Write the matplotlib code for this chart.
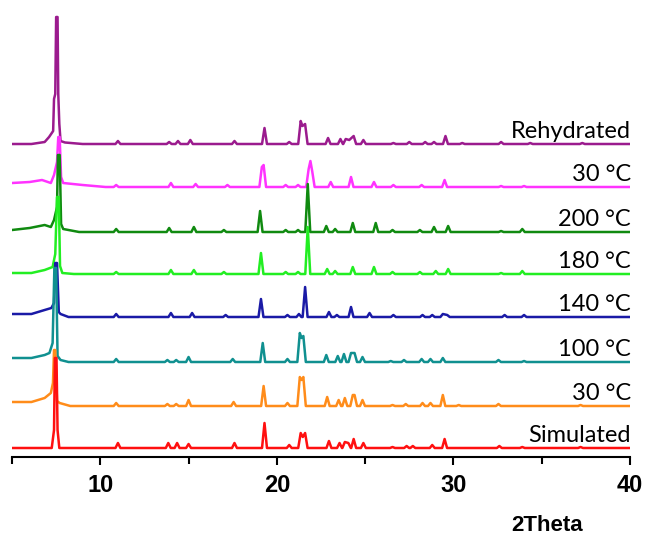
import matplotlib
matplotlib.use("Agg")
import matplotlib.pyplot as plt
from matplotlib.ticker import MultipleLocator

# stacked XRD patterns, top to bottom (intensities relative to each baseline)
names = ["Rehydrated", "30 °C", "200 °C", "180 °C", "140 °C", "100 °C", "30 °C", "Simulated"]
colors = ["#9B1B8E", "#FF33FF", "#108A10", "#22EE22", "#1A1AA6", "#109090", "#FF8C1A", "#FF1010"]
offsets = [313, 270, 225, 183, 140, 95, 51, 9]

# low-angle region (2theta, I) incl. the main reflection
heads = [
    [(5, 0), (6.1, 0), (6.85, 2), (7.1, 7), (7.33, 13), (7.38, 45), (7.45, 50), (7.5, 127),
     (7.58, 127), (7.62, 50), (7.68, 20), (7.75, 3), (8.0, 1.5), (9.0, 0)],
    [(5, 4), (6.0, 5), (6.7, 7), (7.2, 4), (7.38, 12), (7.55, 25), (7.62, 50), (7.7, 50),
     (7.78, 10), (7.9, 4), (9.0, 2), (10.3, 0)],
    [(5, 2), (6.0, 4), (6.85, 7), (7.2, 5), (7.38, 12), (7.55, 25), (7.6, 77), (7.7, 77),
     (7.78, 8), (7.9, 3), (8.8, 0)],
    [(5, 1), (6.1, 1), (6.85, 4), (7.3, 7), (7.45, 20), (7.55, 77), (7.65, 77), (7.72, 8),
     (7.85, 1), (8.5, 0)],
    [(5, 3), (6.1, 3), (6.85, 7), (7.23, 9), (7.38, 14), (7.45, 54), (7.55, 54), (7.65, 5),
     (7.75, 3), (8.2, 0)],
    [(5, 4), (6.1, 4), (6.85, 7), (7.12, 9), (7.3, 19), (7.4, 94), (7.5, 94), (7.58, 6),
     (7.75, 2), (8.2, 0)],
    [(5, 4), (6.1, 4), (6.85, 8), (7.2, 13), (7.32, 23), (7.38, 56), (7.45, 56), (7.55, 5),
     (7.7, 3), (8.3, 0)],
    [(5, 0), (7.25, 0), (7.38, 18), (7.43, 90), (7.52, 90), (7.58, 18), (7.68, 0)],
]

# remaining reflections (2theta, height)
peaks = [
    [(11.0, 3), (13.9, 2), (14.4, 3), (15.1, 4), (17.6, 3), (19.3, 16), (20.7, 2), (21.35, 23),
     (21.45, 18), (21.6, 20), (22.9, 6), (23.6, 5), (23.9, 5), (24.1, 4), (24.35, 8), (24.9, 4),
     (26.6, 1), (27.5, 2), (28.4, 2), (28.9, 2), (29.55, 8), (30.5, 1), (32.7, 2), (34.35, 1),
     (37.3, 1)],
    [(10.9, 2), (14.0, 4), (15.4, 3), (17.2, 2), (19.15, 20), (19.25, 22), (20.5, 2), (21.2, 2),
     (21.8, 18), (21.9, 26), (22.0, 16), (23.05, 5), (24.2, 10), (25.5, 5), (26.6, 2), (28.2, 2),
     (29.5, 7), (32.7, 1), (34.0, 1)],
    [(10.9, 3), (13.9, 4), (15.3, 5), (17.0, 2), (19.05, 21), (20.5, 2), (21.2, 2), (21.75, 48),
     (22.8, 6), (23.3, 3), (24.3, 9), (25.6, 9), (26.55, 2), (28.1, 2), (28.9, 5), (29.7, 6),
     (32.7, 1), (33.9, 3)],
    [(10.9, 2), (14.0, 4), (15.3, 4), (17.0, 2), (19.1, 21), (20.5, 2), (21.2, 2), (21.75, 47),
     (22.85, 5), (23.3, 3), (24.3, 7), (25.5, 7), (26.55, 2), (28.1, 2), (29.0, 3), (29.7, 5),
     (32.7, 1), (33.9, 3)],
    [(10.9, 3), (14.0, 4), (15.2, 4), (17.1, 2), (19.1, 18), (20.6, 2), (21.25, 3), (21.6, 30),
     (22.95, 5), (23.4, 2), (24.2, 10), (25.25, 4), (26.6, 2), (28.25, 2), (28.8, 2), (29.4, 3),
     (29.65, 2), (32.9, 2), (34.0, 2)],
    [(10.9, 3), (13.8, 2), (14.3, 2), (15.0, 5), (17.5, 3), (19.2, 19), (20.6, 3), (21.3, 29),
     (21.4, 24), (21.5, 26), (22.8, 7), (23.45, 6), (23.8, 8), (24.2, 9), (24.4, 9), (24.85, 5),
     (26.45, 1), (27.2, 2), (28.2, 3), (28.7, 3), (29.4, 4), (32.55, 2), (34.0, 1)],
    [(10.9, 3), (13.8, 2), (14.3, 2), (15.0, 6), (17.55, 4), (19.25, 20), (20.6, 3), (21.3, 29),
     (21.4, 26), (21.5, 29), (22.85, 9), (23.5, 6), (23.85, 8), (24.3, 11), (24.4, 11),
     (24.85, 6), (26.55, 1), (27.3, 2), (28.25, 3), (28.7, 3), (29.4, 11), (30.3, 1),
     (32.55, 2), (37.2, 1)],
    [(11.0, 5), (13.85, 5), (14.35, 5), (15.0, 4), (17.6, 5), (19.3, 25), (20.7, 3), (21.35, 15),
     (21.47, 11), (21.6, 15), (22.95, 7), (23.55, 5), (23.85, 6), (24.05, 5), (24.35, 9),
     (24.9, 5), (26.55, 1), (27.35, 2), (27.7, 2), (28.8, 3), (29.5, 9), (32.6, 2), (33.9, 1),
     (37.2, 1)],
]

HW = 0.14  # half width of a reflection


def trace(head, pk):
    xs = [p[0] for p in head]
    ys = [p[1] for p in head]
    prev = None
    for pos, h in pk:
        if prev is None or pos - prev > 2 * HW:
            if prev is not None:
                xs.append(prev + HW)
                ys.append(0)
            xs.append(pos - HW)
            ys.append(0)
        xs.append(pos)
        ys.append(h)
        prev = pos
    xs += [prev + HW, 40]
    ys += [0, 0]
    return xs, ys


fig = plt.figure(figsize=(6.46, 5.36), dpi=100)
ax = fig.add_axes([12 / 646, 79 / 536, 618 / 646, 447 / 536])

for i in range(len(names)):
    x, y = trace(heads[i], peaks[i])
    ax.plot(x, [v + offsets[i] for v in y], color=colors[i], lw=1.8, zorder=2 + i,
            solid_joinstyle="round")
    ax.text(40.05, offsets[i] + 6, names[i], ha="right", va="baseline",
            fontsize=17, family=["Lato", "DejaVu Sans"], color="black", zorder=20)

ax.set_xlim(5, 40)
ax.set_ylim(0, 447)
ax.set_yticks([])
for s in ["left", "right", "top"]:
    ax.spines[s].set_visible(False)
ax.spines["bottom"].set_linewidth(1.5)
ax.xaxis.set_major_locator(MultipleLocator(10))
ax.xaxis.set_minor_locator(MultipleLocator(5))
ax.tick_params(axis="x", which="major", direction="out", length=6, width=1.5, pad=6)
ax.tick_params(axis="x", which="minor", direction="out", length=5, width=1.5)
for lab in ax.get_xticklabels():
    lab.set_fontfamily("Liberation Sans")
    lab.set_fontweight("bold")
    lab.set_fontsize(17)

fig.text(547 / 646, 1 - 531 / 536, "2Theta", ha="center", va="baseline",
         fontsize=16, fontweight="bold", family="Liberation Sans")

fig.savefig("out.png", dpi=100)
